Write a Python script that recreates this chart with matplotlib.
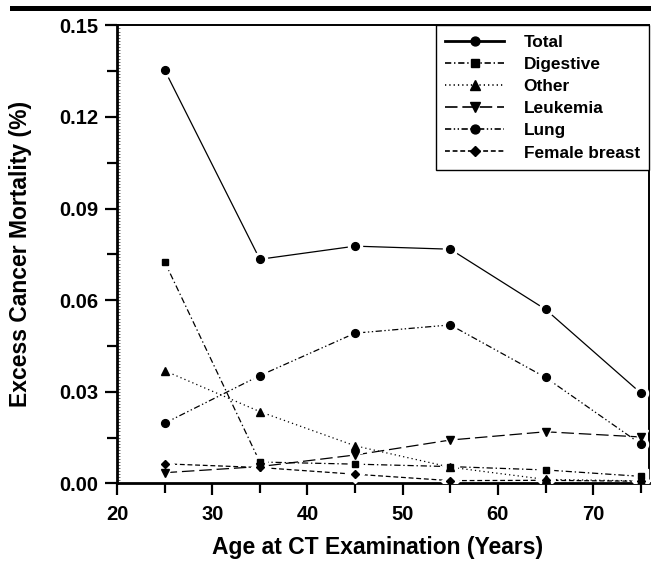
import matplotlib
matplotlib.use("Agg")
import matplotlib.pyplot as plt
from matplotlib.lines import Line2D
from matplotlib.ticker import MultipleLocator
import numpy as np

# values
ages = [25, 35, 45, 55, 65, 75]
total = [0.1354, 0.0734, 0.0777, 0.0767, 0.0570, 0.0296]
digestive = [0.0726, 0.0070, 0.0063, 0.0055, 0.0044, 0.0023]
other = [0.0369, 0.0235, 0.0123, 0.0053, 0.0013, 0.0008]
leukemia = [0.0035, 0.0055, 0.0093, 0.0142, 0.0169, 0.0152]
lung = [0.0197, 0.0353, 0.0492, 0.0519, 0.0347, 0.0129]
breast = [0.0064, 0.0052, 0.0030, 0.0009, 0.0010, 0.0007]

series_names = ["Total", "Digestive", "Other", "Leukemia", "Lung", "Female breast"]

plt.rcParams['font.family'] = ['Liberation Sans', 'DejaVu Sans']
plt.rcParams['font.weight'] = 'bold'
plt.rcParams['lines.scale_dashes'] = False

fig = plt.figure(figsize=(6.51, 5.62), dpi=100)
ax = fig.add_axes([0.1797, 0.1399, 0.8177, 0.8149])

# line style, marker, marker size for each series
styles = [
    ("-", "o", 5.6),
    ((0, (4.5, 2, 1, 2)), "s", 5.0),
    ((0, (0.9, 2.2)), "^", 5.8),
    ((0, (9, 3.5)), "v", 5.8),
    ((0, (4.5, 1.8, 1, 1.8, 1, 1.8)), "o", 5.6),
    ((0, (3.5, 2)), "D", 4.2),
]
data = [total, digestive, other, leukemia, lung, breast]

# lines first, then a white halo under each marker (gap like the original), then markers
for vals, (ls, mk, ms) in zip(data, styles):
    ax.plot(ages, vals, color='black', linestyle=ls, linewidth=0.9, zorder=2)
for vals, (ls, mk, ms) in zip(data, styles):
    ax.plot(ages, vals, linestyle='none', marker=mk, markersize=ms + 4.5,
            color='white', zorder=3)
for vals, (ls, mk, ms) in zip(data, styles):
    ax.plot(ages, vals, linestyle='none', marker=mk, markersize=ms,
            color='black', zorder=4)

ax.set_xlim(20, 75.9)
ax.set_ylim(0, 0.15)
ax.xaxis.set_major_locator(MultipleLocator(10))
ax.xaxis.set_minor_locator(MultipleLocator(5))
ax.yaxis.set_major_locator(MultipleLocator(0.03))
ax.yaxis.set_minor_locator(MultipleLocator(0.015))
ax.yaxis.set_major_formatter(plt.FuncFormatter(lambda v, p: "%.2f" % v))

ax.tick_params(axis='both', which='major', direction='out', length=8.5, width=1.6,
               labelsize=14.5, top=False, right=False)
ax.tick_params(axis='both', which='minor', direction='out', length=7, width=1.6,
               top=False, right=False)
ax.tick_params(axis='x', which='major', pad=7)
ax.tick_params(axis='y', which='major', pad=5)
for lab in ax.get_xticklabels() + ax.get_yticklabels():
    lab.set_fontweight('bold')

for side in ['left', 'bottom']:
    ax.spines[side].set_linewidth(2.0)
for side in ['top', 'right']:
    ax.spines[side].set_linewidth(1.4)

# fine ruler ticks inside the left spine
sec = ax.secondary_yaxis('left')
sec.set_yticks(np.arange(0, 0.1501, 0.001))
sec.tick_params(direction='in', length=2.5, width=0.5, labelleft=False, colors='#333333')
sec.spines['left'].set_visible(False)

ax.set_xlabel("Age at CT Examination (Years)", fontsize=16.5, fontweight='bold', va='center')
ax.xaxis.set_label_coords(0.49, -0.141)
ax.set_ylabel("Excess Cancer Mortality (%)", fontsize=16.5, fontweight='bold', va='center')
ax.yaxis.set_label_coords(-0.182, 0.5)

# legend handles without the white halo
handles = []
for name, (ls, mk, ms) in zip(series_names, styles):
    lw = 2.0 if name == "Total" else 1.2
    handles.append(Line2D([], [], color='black', linestyle=ls, linewidth=lw,
                          marker=mk, markersize=ms + 0.8))
leg = ax.legend(handles, series_names, loc='upper right', borderaxespad=0,
                fontsize=12.4, handlelength=3.4, handletextpad=1.15,
                labelspacing=0.41, borderpad=0.55, fancybox=False, framealpha=1,
                edgecolor='black')
leg.get_frame().set_linewidth(1.0)
for t in leg.get_texts():
    t.set_fontweight('bold')

# thick rule across the top of the figure
fig.add_artist(Line2D([12 / 651, 1.0], [1 - 7.5 / 562, 1 - 7.5 / 562],
                      color='black', linewidth=3.6, transform=fig.transFigure))

fig.savefig("out.png", dpi=100)
